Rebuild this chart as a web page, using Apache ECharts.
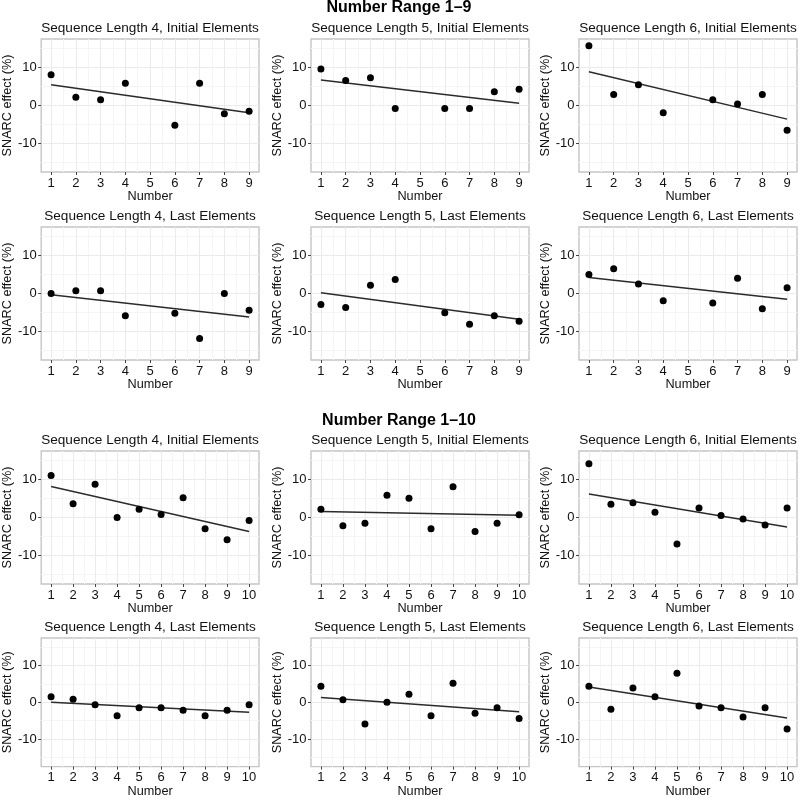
<!DOCTYPE html>
<html><head><meta charset="utf-8">
<script src="https://cdn.jsdelivr.net/npm/echarts@6/dist/echarts.min.js"></script>
<style>html,body{margin:0;padding:0;background:#fff}#c{width:800px;height:799px}</style>
</head><body><div id="c"></div>
<script>
// ---- tick labels ----
const xTicks9 = [1, 2, 3, 4, 5, 6, 7, 8, 9];
const xTicks10 = [1, 2, 3, 4, 5, 6, 7, 8, 9, 10];
const xMinor9 = [1.5, 2.5, 3.5, 4.5, 5.5, 6.5, 7.5, 8.5];
const xMinor10 = [1.5, 2.5, 3.5, 4.5, 5.5, 6.5, 7.5, 8.5, 9.5];
const yTicks = [-10, 0, 10];
const yMinor = [-15, -5, 5, 15];

// ---- categories ----
const numbers9 = [1, 2, 3, 4, 6, 7, 8, 9];
const numbers10 = [1, 2, 3, 4, 5, 6, 7, 8, 9, 10];
const sectionTitles = ['Number Range 1\u20139', 'Number Range 1\u201310'];
const panelTitles = [
  'Sequence Length 4, Initial Elements', 'Sequence Length 5, Initial Elements', 'Sequence Length 6, Initial Elements',
  'Sequence Length 4, Last Elements', 'Sequence Length 5, Last Elements', 'Sequence Length 6, Last Elements'
];
const xAxisTitle = 'Number';
const yAxisTitle = 'SNARC effect (%)';

// ---- SNARC effects, number range 1-9 ----
const r9Len4Initial = [8.1, 2.2, 1.5, 5.9, -5.2, 5.9, -2.2, -1.5];
const r9Len5Initial = [9.6, 6.6, 7.3, -0.8, -0.8, -0.8, 3.6, 4.3];
const r9Len6Initial = [15.8, 2.9, 5.5, -1.9, 1.5, 0.4, 2.9, -6.5];
const r9Len4Last = [0.0, 0.7, 0.7, -5.9, -5.2, -11.9, 0.0, -4.4];
const r9Len5Last = [-2.9, -3.7, 2.2, 3.7, -5.1, -8.1, -5.9, -7.3];
const r9Len6Last = [5.0, 6.5, 2.5, -1.9, -2.5, 4.0, -4.0, 1.5];
// ---- SNARC effects, number range 1-10 ----
const r10Len4Initial = [11.1, 3.6, 8.8, 0.0, 2.2, 0.8, 5.2, -3.0, -5.9, -0.8];
const r10Len5Initial = [2.2, -2.2, -1.5, 5.9, 5.1, -3.0, 8.1, -3.7, -1.5, 0.7];
const r10Len6Initial = [14.2, 3.5, 3.9, 1.4, -7.0, 2.5, 0.5, -0.4, -2.0, 2.5];
const r10Len4Last = [1.5, 0.8, -0.7, -3.7, -1.5, -1.5, -2.2, -3.7, -2.2, -0.7];
const r10Len5Last = [4.4, 0.7, -5.9, 0.0, 2.2, -3.7, 5.2, -3.0, -1.5, -4.4];
const r10Len6Last = [4.4, -1.9, 3.9, 1.5, 7.9, -1.0, -1.5, -4.0, -1.5, -7.3];

// ---- fitted regression line values at the first and last number ----
const fitR9Len4Initial = [5.5, -1.9];
const fitR9Len5Initial = [6.7, 0.6];
const fitR9Len6Initial = [8.9, -3.6];
const fitR9Len4Last = [-0.35, -6.2];
const fitR9Len5Last = [0.2, -6.8];
const fitR9Len6Last = [4.2, -1.5];
const fitR10Len4Initial = [8.2, -3.7];
const fitR10Len5Initial = [1.6, 0.6];
const fitR10Len6Initial = [6.2, -2.5];
const fitR10Len4Last = [0.0, -2.7];
const fitR10Len5Last = [1.3, -2.6];
const fitR10Len6Last = [4.2, -4.3];

// ---- assemble panels ----
const panels = [
  { title: panelTitles[0], xs: numbers9, ys: r9Len4Initial, fit: fitR9Len4Initial, ticks: xTicks9, minor: xMinor9 },
  { title: panelTitles[1], xs: numbers9, ys: r9Len5Initial, fit: fitR9Len5Initial, ticks: xTicks9, minor: xMinor9 },
  { title: panelTitles[2], xs: numbers9, ys: r9Len6Initial, fit: fitR9Len6Initial, ticks: xTicks9, minor: xMinor9 },
  { title: panelTitles[3], xs: numbers9, ys: r9Len4Last, fit: fitR9Len4Last, ticks: xTicks9, minor: xMinor9 },
  { title: panelTitles[4], xs: numbers9, ys: r9Len5Last, fit: fitR9Len5Last, ticks: xTicks9, minor: xMinor9 },
  { title: panelTitles[5], xs: numbers9, ys: r9Len6Last, fit: fitR9Len6Last, ticks: xTicks9, minor: xMinor9 },
  { title: panelTitles[0], xs: numbers10, ys: r10Len4Initial, fit: fitR10Len4Initial, ticks: xTicks10, minor: xMinor10 },
  { title: panelTitles[1], xs: numbers10, ys: r10Len5Initial, fit: fitR10Len5Initial, ticks: xTicks10, minor: xMinor10 },
  { title: panelTitles[2], xs: numbers10, ys: r10Len6Initial, fit: fitR10Len6Initial, ticks: xTicks10, minor: xMinor10 },
  { title: panelTitles[3], xs: numbers10, ys: r10Len4Last, fit: fitR10Len4Last, ticks: xTicks10, minor: xMinor10 },
  { title: panelTitles[4], xs: numbers10, ys: r10Len5Last, fit: fitR10Len5Last, ticks: xTicks10, minor: xMinor10 },
  { title: panelTitles[5], xs: numbers10, ys: r10Len6Last, fit: fitR10Len6Last, ticks: xTicks10, minor: xMinor10 }
];

const FONT = '"Liberation Sans", Arial, Helvetica, sans-serif';
const colLeft = [41, 311, 579];
const rowTop = [39, 227, 451, 638];
const plotW = 218, plotH = 133;
const yMin = -17.55, yMax = 17.55;
const majorGrid = '#ebebeb', minorGrid = '#f5f5f5';

const grids = [], xAxes = [], yAxes = [], series = [], graphics = [];

panels.forEach((p, i) => {
  const row = Math.floor(i / 3), col = i % 3;
  const left = colLeft[col], top = rowTop[row];
  const first = p.ticks[0], last = p.ticks[p.ticks.length - 1];
  const pad = (last - first) * 0.05;
  const xMin = first - pad, xMax = last + pad;
  grids.push({ left: left, top: top, width: plotW, height: plotH, show: true,
    backgroundColor: '#fff', borderColor: '#c4c6c6', borderWidth: 1.4, containLabel: false });
  const gi = i;
  // main x axis
  xAxes.push({
    type: 'value', gridIndex: gi, min: xMin, max: xMax, position: 'bottom',
    name: xAxisTitle, nameLocation: 'middle', nameGap: 15,
    nameTextStyle: { fontFamily: FONT, fontSize: 12.7, color: '#111' },
    axisLine: { show: false, onZero: false },
    axisTick: { show: true, inside: false, length: 3, lineStyle: { color: '#444', width: 1 }, customValues: p.ticks },
    axisLabel: { show: true, margin: 4.5, fontFamily: FONT, fontSize: 13, color: '#111', customValues: p.ticks },
    splitLine: { show: true, lineStyle: { color: majorGrid, width: 1 } },
    z: 2
  });
  // minor x axis
  xAxes.push({
    type: 'value', gridIndex: gi, min: xMin, max: xMax, position: 'top',
    axisLine: { show: false, onZero: false }, axisLabel: { show: false },
    axisTick: { show: false, customValues: p.minor },
    splitLine: { show: true, lineStyle: { color: minorGrid, width: 1 } },
    z: 1
  });
  yAxes.push({
    type: 'value', gridIndex: gi, min: yMin, max: yMax, position: 'left',
    name: yAxisTitle, nameLocation: 'middle', nameGap: 26, nameRotate: 90,
    nameTextStyle: { fontFamily: FONT, fontSize: 12.7, color: '#111' },
    axisLine: { show: false, onZero: false },
    axisTick: { show: true, inside: false, length: 3, lineStyle: { color: '#444', width: 1 }, customValues: yTicks },
    axisLabel: { show: true, margin: 4.5, fontFamily: FONT, fontSize: 13, color: '#111', customValues: yTicks },
    splitLine: { show: true, lineStyle: { color: majorGrid, width: 1 } },
    z: 2
  });
  yAxes.push({
    type: 'value', gridIndex: gi, min: yMin, max: yMax, position: 'right',
    axisLine: { show: false, onZero: false }, axisLabel: { show: false },
    axisTick: { show: false, customValues: yMinor },
    splitLine: { show: true, lineStyle: { color: minorGrid, width: 1 } },
    z: 1
  });
  const xi = 2 * i, yi = 2 * i;
  series.push({
    type: 'line', xAxisIndex: xi, yAxisIndex: yi, silent: true, symbol: 'none',
    data: [[p.xs[0], p.fit[0]], [p.xs[p.xs.length - 1], p.fit[1]]],
    lineStyle: { color: '#2b2b2b', width: 1.5 }, z: 3, animation: false
  });
  series.push({
    type: 'scatter', xAxisIndex: xi, yAxisIndex: yi, silent: true,
    data: p.xs.map((x, k) => [x, p.ys[k]]),
    symbol: 'circle', symbolSize: 7, itemStyle: { color: '#000', opacity: 1 }, z: 4, animation: false
  });
  graphics.push({
    type: 'text', x: left + plotW / 2, y: top - 10.3,
    style: { text: p.title, fontFamily: FONT, fontSize: 13.6, fill: '#111',
      align: 'center', verticalAlign: 'middle', textAlign: 'center', textVerticalAlign: 'middle' }
  });
});

[[sectionTitles[0], 8], [sectionTitles[1], 420.7]].forEach(([t, y]) => {
  graphics.push({
    type: 'text', x: 399, y: y,
    style: { text: t, fontFamily: FONT, fontSize: 16, fontWeight: 'bold', fill: '#000',
      align: 'center', verticalAlign: 'middle', textAlign: 'center', textVerticalAlign: 'middle' }
  });
});

const chart = echarts.init(document.getElementById('c'), null, { renderer: 'canvas' });
chart.setOption({
  animation: false,
  backgroundColor: '#fff',
  grid: grids, xAxis: xAxes, yAxis: yAxes, series: series, graphic: graphics
});
</script></body></html>
